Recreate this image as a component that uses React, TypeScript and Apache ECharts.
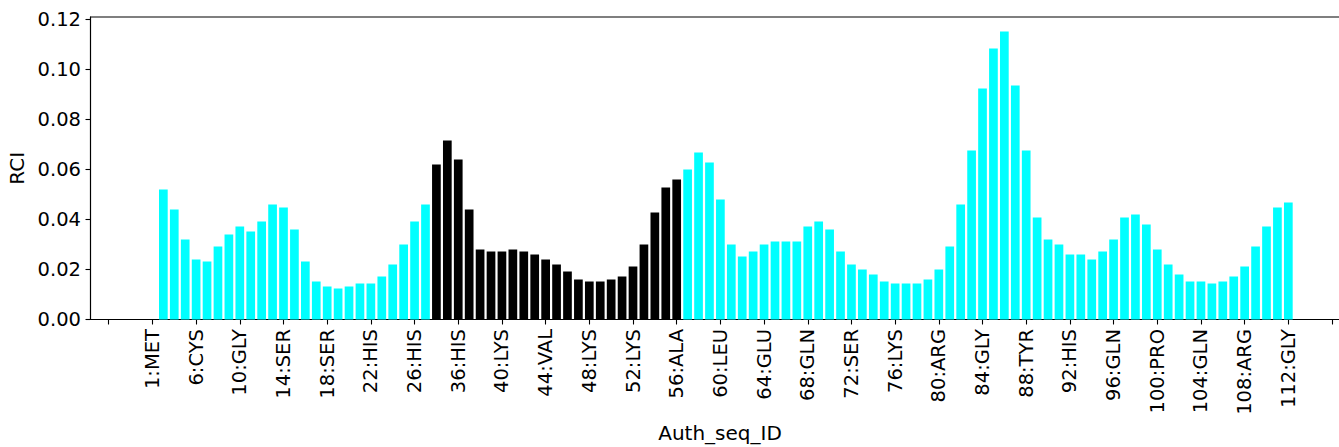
import React, { useEffect, useRef } from "react";
import * as echarts from "echarts";

// RCI values per residue bar (104 bars, in order)
const rciValues: number[] = [
  // segment 1 (cyan)
  0.052, 0.044, 0.032, 0.024, 0.0232, 0.0292, 0.034, 0.0372, 0.0352, 0.0392,
  0.046, 0.0448, 0.036, 0.0232, 0.0152, 0.0132, 0.0124, 0.0132, 0.0144, 0.0144,
  0.0172, 0.022, 0.030, 0.0392, 0.046,
  // segment 2 (black)
  0.062, 0.0716, 0.064, 0.044, 0.028, 0.0272, 0.0272, 0.028, 0.0272, 0.026,
  0.024, 0.022, 0.0192, 0.016, 0.0152, 0.0152, 0.016, 0.0172, 0.0212, 0.030,
  0.0428, 0.0528, 0.056,
  // segment 3 (cyan)
  0.060, 0.0668, 0.0628, 0.048, 0.030, 0.0252, 0.0272, 0.030, 0.0312, 0.0312,
  0.0312, 0.0372, 0.0392, 0.036, 0.0272, 0.022, 0.020, 0.018, 0.0152, 0.0144,
  0.0144, 0.0144, 0.016, 0.020, 0.0292, 0.046, 0.0676,
  // segment 4 (cyan)
  0.0924, 0.1084, 0.1152, 0.0936, 0.0676, 0.0408, 0.032, 0.030, 0.026, 0.026,
  0.024, 0.0272, 0.032, 0.0408, 0.042, 0.038, 0.028, 0.022, 0.018, 0.0152,
  0.0152, 0.0144, 0.0152, 0.0172, 0.0212, 0.0292, 0.0372, 0.0448, 0.0468,
];

// index range of the highlighted (black) bars
const highlightStart = 25;
const highlightEnd = 47;

// x tick labels (as they appear, one every 4 ticks)
const xTickLabels: string[] = [
  "1:MET", "6:CYS", "10:GLY", "14:SER", "18:SER", "22:HIS", "26:HIS",
  "36:HIS", "40:LYS", "44:VAL", "48:LYS", "52:LYS", "56:ALA", "60:LEU",
  "64:GLU", "68:GLN", "72:SER", "76:LYS", "80:ARG", "84:GLY", "88:TYR",
  "92:HIS", "96:GLN", "100:PRO", "104:GLN", "108:ARG", "112:GLY",
];

// tick positions on the bar-index axis
const xTickPositions: number[] = [
  -5, -1, 3, 7, 11, 15, 19, 23, 27, 31, 35, 39, 43, 47, 51, 55, 59, 63, 67,
  71, 75, 79, 83, 87, 91, 95, 99, 103, 107,
];
const xLabelPositions: number[] = xTickPositions.slice(1, 28);

const yTicks: number[] = [0, 0.02, 0.04, 0.06, 0.08, 0.1, 0.12];

const FONT = "DejaVu Sans";

export default function App() {
  const ref = useRef<HTMLDivElement>(null);

  useEffect(() => {
    if (!ref.current) return;
    const chart = echarts.init(ref.current, undefined, { renderer: "svg" });
    const option: any = {
      animation: false,
      grid: {
        left: 90.5,
        top: 17,
        width: 1259,
        height: 302.5,
        show: true,
        borderColor: "#000",
        borderWidth: 1.1,
        outerBoundsMode: "none",
        containLabel: false,
      },
      xAxis: {
        type: "value",
        min: -6.67,
        max: 108.6,
        name: "Auth_seq_ID",
        nameLocation: "middle",
        nameGap: 100,
        nameTextStyle: { fontSize: 20, color: "#000", fontFamily: FONT },
        axisLine: { show: true, onZero: false, lineStyle: { color: "#000", width: 1.1 } },
        axisTick: {
          show: true,
          length: 5,
          lineStyle: { color: "#000", width: 1.1 },
          customValues: xTickPositions,
        },
        axisLabel: {
          customValues: xLabelPositions,
          rotate: 90,
          margin: 9.5,
          fontSize: 19.5,
          color: "#000",
          fontFamily: FONT,
          formatter: (v: number) => {
            const k = Math.round((v + 1) / 4);
            return xTickLabels[k] ?? "";
          },
        },
        splitLine: { show: false },
      },
      yAxis: {
        type: "value",
        min: 0,
        max: 0.121,
        name: "RCI",
        nameLocation: "middle",
        nameGap: 62,
        nameTextStyle: { fontSize: 20, color: "#000", fontFamily: FONT },
        axisLine: { show: true, onZero: false, lineStyle: { color: "#000", width: 1.1 } },
        axisTick: {
          show: true,
          length: 5,
          lineStyle: { color: "#000", width: 1.1 },
          customValues: yTicks,
        },
        axisLabel: {
          customValues: yTicks,
          margin: 9.5,
          fontSize: 19.5,
          color: "#000",
          fontFamily: FONT,
          formatter: (v: number) => v.toFixed(2),
        },
        splitLine: { show: false },
      },
      series: [
        {
          type: "bar",
          barWidth: 8.7,
          data: rciValues.map((v, i) => ({
            value: [i, v],
            itemStyle: {
              color: i >= highlightStart && i <= highlightEnd ? "#000000" : "#00ffff",
            },
          })),
        },
      ],
    };
    chart.setOption(option);
    return () => chart.dispose();
  }, []);

  return (
    <div
      ref={ref}
      style={{ position: "fixed", left: 0, top: 0, width: 1339, height: 447, background: "#fff" }}
    />
  );
}
